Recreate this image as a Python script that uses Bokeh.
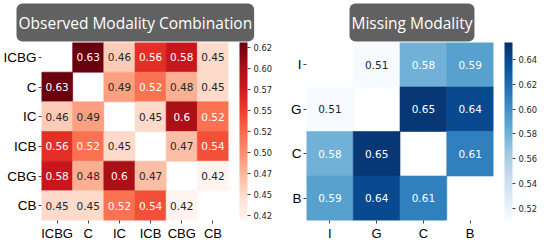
from bokeh.plotting import figure
from bokeh.models import (ColumnDataSource, LinearColorMapper, ColorBar, FixedTicker,
                          CustomJSTickFormatter, FactorRange)
from bokeh.layouts import row
from bokeh.palettes import Reds256, Blues256
from bokeh.embed import file_html
from bokeh.resources import INLINE
from bokeh.core.properties import value

# ---------------- data ----------------
obs_title = "Observed Modality Combination"
obs_labels = ["ICBG", "C", "IC", "ICB", "CBG", "CB"]
obs_values = [
    [None, 0.63, 0.46, 0.56, 0.58, 0.45],
    [0.63, None, 0.49, 0.52, 0.48, 0.45],
    [0.46, 0.49, None, 0.45, 0.60, 0.52],
    [0.56, 0.52, 0.45, None, 0.47, 0.54],
    [0.58, 0.48, 0.60, 0.47, None, 0.42],
    [0.45, 0.45, 0.52, 0.54, 0.42, None],
]
obs_low, obs_high = 0.419, 0.631
obs_ticks = [0.425, 0.45, 0.475, 0.5, 0.525, 0.55, 0.575, 0.6, 0.625]

miss_title = "Missing Modality"
miss_labels = ["I", "G", "C", "B"]
miss_values = [
    [None, 0.51, 0.58, 0.59],
    [0.51, None, 0.65, 0.64],
    [0.58, 0.65, None, 0.61],
    [0.59, 0.64, 0.61, None],
]
miss_low, miss_high = 0.51, 0.654
miss_ticks = [0.52, 0.54, 0.56, 0.58, 0.60, 0.62, 0.64]

FRAME_W, FRAME_H = 187, 178


def _lum(hexc):
    h = hexc.lstrip("#")
    rgb = [int(h[i:i + 2], 16) / 255 for i in (0, 2, 4)]
    lin = [c / 12.92 if c <= 0.03928 else ((c + 0.055) / 1.055) ** 2.4 for c in rgb]
    return 0.2126 * lin[0] + 0.7152 * lin[1] + 0.0722 * lin[2]


def light_first(pal):
    pal = list(pal)
    return pal if _lum(pal[0]) > _lum(pal[-1]) else pal[::-1]


def panel(title, labels, values, palette, low, high, ticks, fmt_code,
          min_left, min_right, title_offset, cb_gap):
    pal = light_first(palette)
    mapper = LinearColorMapper(palette=pal, low=low, high=high)
    xs, ys, vs, ts, tcs = [], [], [], [], []
    n = len(pal)
    for r, rl in enumerate(labels):
        for c, cl in enumerate(labels):
            v = values[r][c]
            if v is None:
                continue
            idx = int((v - low) / (high - low) * n)
            idx = max(0, min(n - 1, idx))
            xs.append(cl)
            ys.append(rl)
            vs.append(v)
            s = f"{v:.2f}"
            ts.append(s[:-1] if s.endswith("0") else s)
            tcs.append("#262626" if _lum(pal[idx]) > 0.408 else "#ffffff")
    src = ColumnDataSource(dict(x=xs, y=ys, v=vs, t=ts, tc=tcs))

    p = figure(x_range=FactorRange(*labels), y_range=FactorRange(*labels[::-1]),
               frame_width=FRAME_W, frame_height=FRAME_H,
               min_border_left=min_left, min_border_right=min_right,
               min_border_top=0, min_border_bottom=0,
               output_backend="svg", toolbar_location=None,
               background_fill_color="white", border_fill_color="white")
    p.x_range.range_padding = 0
    p.y_range.range_padding = 0
    p.rect(x="x", y="y", width=1, height=1, source=src,
           fill_color={"field": "v", "transform": mapper},
           line_color={"field": "v", "transform": mapper}, line_width=0.6)
    p.text(x="x", y="y", text="t", source=src, text_color="tc",
           text_align="center", text_baseline="middle",
           text_font=value("DejaVu Sans"), text_font_size=value("10.5px"))

    for ax in (p.xaxis[0], p.yaxis[0]):
        ax.axis_line_color = None
        ax.major_tick_out = 3
        ax.major_tick_in = 0
        ax.major_tick_line_color = "#444444"
        ax.minor_tick_line_color = None
        ax.major_label_text_font = "Liberation Sans"
        ax.major_label_text_font_size = "13.5px"
        ax.major_label_text_color = "#000000"
        ax.major_label_standoff = 2
    p.xaxis.major_label_text_font_size = "13px"
    p.grid.grid_line_color = None
    p.outline_line_color = None

    cb = ColorBar(color_mapper=mapper, ticker=FixedTicker(ticks=ticks),
                  formatter=CustomJSTickFormatter(code=fmt_code),
                  location=(FRAME_W + cb_gap, 0),
                  width=8, height=FRAME_H, padding=0, margin=0, bar_line_color=None,
                  major_tick_out=3, major_tick_in=0, major_tick_line_color="#444444",
                  minor_tick_line_color=None,
                  major_label_text_font="DejaVu Sans",
                  major_label_text_font_size="8.3px",
                  major_label_text_color="#262626",
                  label_standoff=3, background_fill_color=None,
                  border_line_color=None)
    p.add_layout(cb, "center")

    p.title.text = title
    p.title.align = "left"
    p.title.offset = title_offset
    p.title.text_font = "Open Sans"
    p.title.text_font_size = "15.5px"
    p.title.text_font_style = "normal"
    p.title.text_color = "#ffffff"
    p.title.background_fill_color = "#616161"
    p.title.padding = (2, 8)
    p.title.border_radius = 6
    p.title.standoff = 2
    return p


left = panel(obs_title, obs_labels, obs_values, Reds256, obs_low, obs_high, obs_ticks,
             "return tick.toFixed(3).slice(0, 4);", 35, 45, -25, 11)
right = panel(miss_title, miss_labels, miss_values, Blues256, miss_low, miss_high, miss_ticks,
              "return tick.toFixed(2);", 33, 47, 43, 11)

layout = row(left, right)
open("out.html", "w").write(file_html(layout, INLINE))
